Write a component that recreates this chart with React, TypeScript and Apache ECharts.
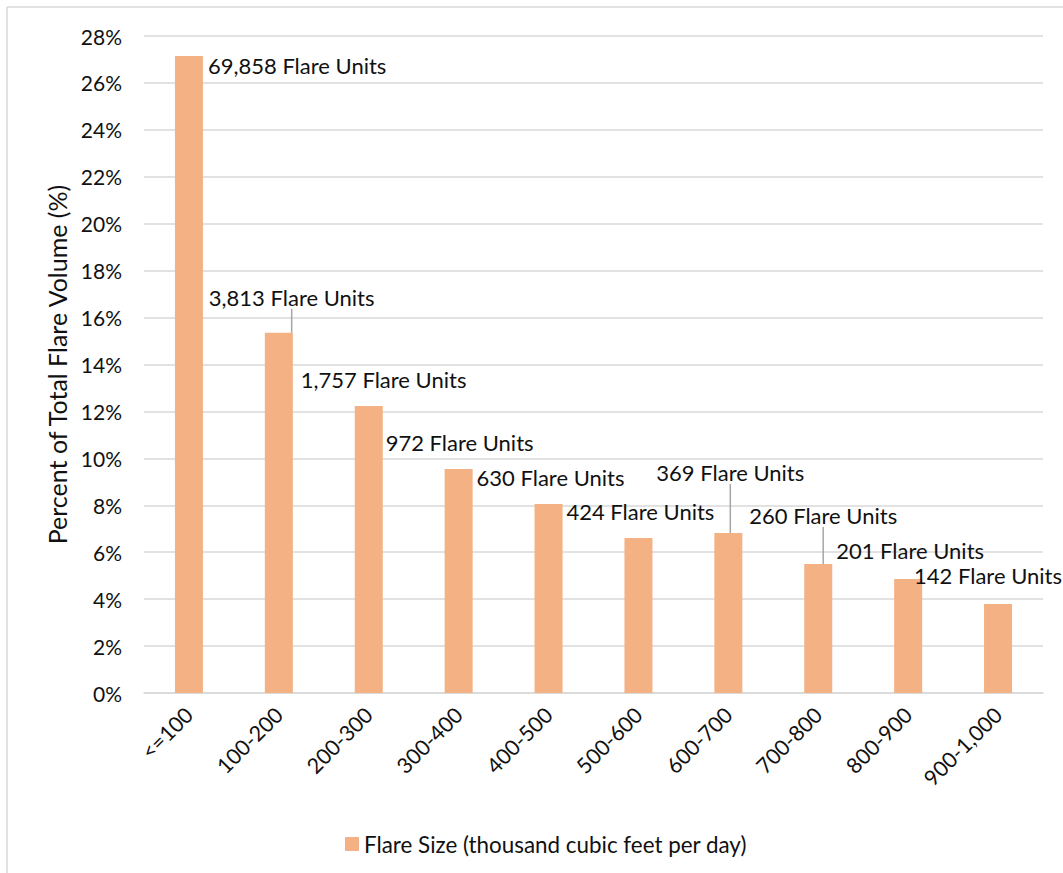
import React, { useEffect, useRef } from "react";
import * as echarts from "echarts";

const categories = ["<=100", "100-200", "200-300", "300-400", "400-500", "500-600", "600-700", "700-800", "800-900", "900-1,000"];
const percentValues = [27.15, 15.35, 12.23, 9.55, 8.06, 6.61, 6.82, 5.5, 4.86, 3.79];
const flareUnits = [69858, 3813, 1757, 972, 630, 424, 369, 260, 201, 142];
const yTicks = { min: 0, max: 28, interval: 2 };
const seriesName = "Flare Size (thousand cubic feet per day)";
const yAxisTitle = "Percent of Total Flare Volume (%)";

// label placement offsets (layout only), relative to each bar's top-left corner
const labelOffsets: [number, number][] = [
  [33, 10], [-56, -35], [-54, -27], [-59, -26], [-58, -26],
  [-58, -26], [-58, -60], [-55, -48], [-58, -28], [-70, -29],
];
const showLeader = [false, true, false, false, false, false, true, true, false, false];

const FONT = "Lato";

export default function App() {
  const ref = useRef<HTMLDivElement>(null);
  useEffect(() => {
    if (!ref.current) return;
    const chart = echarts.init(ref.current, null, { renderer: "svg" });
    chart.setOption({
      animation: false,
      backgroundColor: "#ffffff",
      textStyle: { fontFamily: FONT },
      grid: { left: 144, right: 20, top: 36, bottom: 180, containLabel: false },
      legend: {
        left: 340,
        top: 828,
        icon: "rect",
        itemWidth: 14,
        itemHeight: 14,
        itemGap: 10,
        textStyle: { fontFamily: FONT, fontSize: 22.4, color: "#111" },
        data: [seriesName],
      },
      xAxis: {
        type: "category",
        data: categories,
        axisLine: { show: true, lineStyle: { color: "#d9d9d9", width: 1.5 } },
        axisTick: { show: false },
        axisLabel: { rotate: 45, fontFamily: FONT, fontSize: 21.5, color: "#111", margin: 18, interval: 0 },
      },
      yAxis: {
        type: "value",
        min: yTicks.min,
        max: yTicks.max,
        interval: yTicks.interval,
        name: yAxisTitle,
        nameLocation: "middle",
        nameGap: 74,
        nameTextStyle: { fontFamily: FONT, fontSize: 25, color: "#111" },
        axisLine: { show: false },
        axisTick: { show: false },
        axisLabel: { formatter: "{value}%", fontFamily: FONT, fontSize: 21, color: "#111", margin: 22 },
        splitLine: { lineStyle: { color: "#d9d9d9", width: 1.5 } },
      },
      series: [
        {
          name: seriesName,
          type: "bar",
          barWidth: 28,
          itemStyle: { color: "#F4B183" },
          label: {
            show: true,
            align: "left",
            verticalAlign: "middle",
            fontFamily: FONT,
            fontSize: 22,
            color: "#111",
          },
          labelLine: { show: false, lineStyle: { color: "#a6a6a6", width: 1.5 } },
          data: percentValues.map((v, i) => ({
            value: v,
            label: {
              position: labelOffsets[i],
              formatter: flareUnits[i].toLocaleString("en-US") + " Flare Units",
            },
            labelLine: { show: showLeader[i] },
          })),
        },
      ],
      graphic: [
        { type: "line", shape: { x1: 7, y1: 7, x2: 7, y2: 873 }, style: { stroke: "#d9d9d9", lineWidth: 1.5 } },
        { type: "line", shape: { x1: 7, y1: 7, x2: 1063, y2: 7 }, style: { stroke: "#d9d9d9", lineWidth: 1.5 } },
      ],
    });
    return () => chart.dispose();
  }, []);
  return <div ref={ref} style={{ position: "fixed", left: 0, top: 0, width: 1063, height: 873 }} />;
}
